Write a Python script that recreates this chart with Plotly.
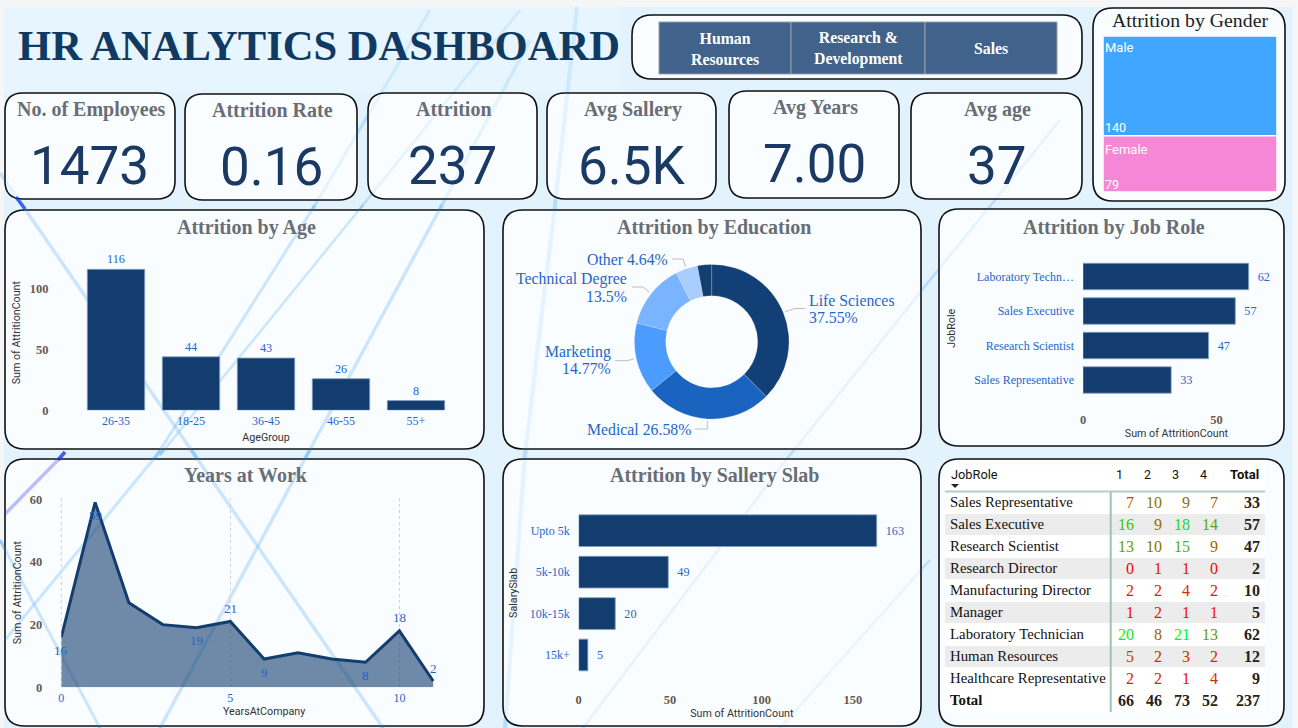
import plotly.graph_objects as go

W, H = 1298, 728

# ---------- data ----------
age_groups = ["26-35", "18-25", "36-45", "46-55", "55+"]
age_values = [116, 44, 43, 26, 8]
edu_labels = ["Life Sciences", "Medical", "Marketing", "Technical Degree", "Other", "Human Resources"]
edu_values = [89, 63, 35, 32, 11, 7]
job_labels = ["Laboratory Techn…", "Sales Executive", "Research Scientist", "Sales Representative"]
job_values = [62, 57, 47, 33]
years_x = [0, 1, 2, 3, 4, 5, 6, 7, 8, 9, 10, 11]
years_y = [16, 59, 27, 20, 19, 21, 9, 11, 9, 8, 18, 2]
years_labelled = {0: "below", 1: "below", 4: "below", 5: "above", 6: "below", 9: "below", 10: "above", 11: "above"}
slab_labels = ["Upto 5k", "5k-10k", "10k-15k", "15k+"]
slab_values = [163, 49, 20, 5]
gender_labels = ["Male", "Female"]
gender_values = [140, 79]
kpi_titles = ["No. of Employees", "Attrition Rate", "Attrition", "Avg Sallery", "Avg Years", "Avg age"]
kpi_values = ["1473", "0.16", "237", "6.5K", "7.00", "37"]
departments = ["Human<br>Resources", "Research &<br>Development", "Sales"]
table_roles = ["Sales Representative", "Sales Executive", "Research Scientist", "Research Director",
               "Manufacturing Director", "Manager", "Laboratory Technician", "Human Resources",
               "Healthcare Representative", "Total"]
table_levels = [1, 2, 3, 4]
table_sat1 = [7, 16, 13, 0, 2, 1, 20, 5, 2]
table_sat2 = [10, 9, 10, 1, 2, 2, 8, 2, 2]
table_sat3 = [9, 18, 15, 1, 4, 1, 21, 3, 1]
table_sat4 = [7, 14, 9, 0, 2, 1, 13, 2, 4]
table_total = [33, 57, 47, 2, 10, 5, 62, 12, 9]
table_col_totals = [66, 46, 73, 52]
table_grand_total = 237

# ---------- style ----------
SERIF = "Liberation Serif"
DIN = "Roboto"
NAVY = "#123d6e"
BLUE_TXT = "#1f66c9"
GREY_TITLE = "#6a6d75"
TICK_GREY = "#66594f"
BAR_EDGE = "rgba(130,160,195,0.8)"


def X(p):
    return p / W


def Y(p):
    return 1 - p / H


def rr(x0, y0, x1, y1, r):
    return (f"M{X(x0+r)},{Y(y0)} L{X(x1-r)},{Y(y0)} Q{X(x1)},{Y(y0)} {X(x1)},{Y(y0+r)} "
            f"L{X(x1)},{Y(y1-r)} Q{X(x1)},{Y(y1)} {X(x1-r)},{Y(y1)} L{X(x0+r)},{Y(y1)} "
            f"Q{X(x0)},{Y(y1)} {X(x0)},{Y(y1-r)} L{X(x0)},{Y(y0+r)} Q{X(x0)},{Y(y0)} {X(x0+r)},{Y(y0)} Z")


shapes = []
annotations = []


def rect(x0, y0, x1, y1, fill, line=None, lw=0, layer="below"):
    shapes.append(dict(type="rect", xref="paper", yref="paper", x0=X(x0), x1=X(x1), y0=Y(y0), y1=Y(y1),
                       fillcolor=fill, line=dict(color=line or fill, width=lw), layer=layer))


def seg(pts, color, width, layer="below", dash="solid"):
    p = "M" + " L".join(f"{X(a)},{Y(b)}" for a, b in pts)
    shapes.append(dict(type="path", xref="paper", yref="paper", path=p,
                       line=dict(color=color, width=width, dash=dash), layer=layer))


def panel(x0, y0, x1, y1, r=20):
    shapes.append(dict(type="path", xref="paper", yref="paper", path=rr(x0, y0, x1, y1, r),
                       fillcolor="rgba(255,255,255,0.80)", line=dict(color="#111111", width=1.6), layer="below"))


def text(t, x, y, size, color, family=SERIF, bold=False, xanchor="center", align="center"):
    dx = {"left": -1.5, "right": 1.5, "center": 0}[xanchor]
    font = dict(family=family, size=size, color=color)
    annotations.append(dict(text=f"<b>{t}</b>" if bold else t, x=X(x + dx), y=Y(y), xref="paper", yref="paper",
                            showarrow=False, xanchor=xanchor, yanchor="middle", align=align, font=font))


# ---------- background ----------
rect(4, 7, 1293, 728, "#e2f3fe")
rect(4, 7, 620, 92, "#e6f5ff")
LOWER_STREAKS = [
    ([(5, 640), (157, 455), (315, 205)], 3),
    ([(160, 728), (307, 455), (442, 205)], 3.5),
    ([(25, 209), (383, 728)], 3.5),
    ([(0, 540), (100, 728)], 3),
    ([(160, 455), (363, 205)], 2.5),
]
UPPER_STREAKS = [
    ([(315, 205), (430, 10)], 3),
    ([(442, 205), (530, 40)], 3.5),
    ([(363, 205), (520, 10)], 2.5),
    ([(0, 173), (25, 209)], 3.5),
]
RIGHT_STREAKS = [
    ([(505, 728), (525, 455), (555, 205), (577, 7)], 4),
    ([(583, 728), (790, 455), (930, 280), (1060, 120)], 2.5),
    ([(780, 728), (930, 560)], 2),
]
for pts, w in LOWER_STREAKS:
    seg(pts, "rgba(70,165,245,0.38)", w)
for pts, w in UPPER_STREAKS + RIGHT_STREAKS:
    seg(pts, "rgba(70,165,245,0.22)", w)
rect(4, 7, 625, 92, "rgba(230,245,255,0.6)")

# ---------- panels ----------
kpi_boxes = [(5, 93, 175, 199), (185, 94, 357, 200), (368, 93, 537, 199),
             (547, 93, 716, 199), (729, 91, 899, 198), (911, 93, 1082, 199)]
for b in kpi_boxes:
    panel(*b, r=18)
panel(632, 15, 1082, 79, r=20)
panel(1093, 8, 1285, 201, r=20)
panel(5, 210, 484, 449)
panel(503, 210, 921, 449)
panel(939, 209, 1284, 446)
panel(5, 459, 484, 726)
panel(503, 459, 921, 726)
panel(939, 459, 1284, 726)

# streaks that still show through the translucent panels
for pts, w in LOWER_STREAKS:
    seg(pts, "rgba(70,165,245,0.20)", w)
for pts, w in UPPER_STREAKS:
    seg(pts, "rgba(70,165,245,0.07)", w)
for pts, w in RIGHT_STREAKS:
    seg(pts, "rgba(70,165,245,0.07)", w)
seg([(16, 197), (25, 209)], "rgba(10,60,230,0.75)", 3.5)
seg([(65, 452), (58, 460)], "rgba(20,40,230,0.75)", 3.5)
seg([(58, 460), (5, 514)], "rgba(60,60,230,0.32)", 3.5)

# ---------- heading, KPI ----------
text("HR ANALYTICS DASHBOARD", 17, 45, 42.6, "#113a63", bold=True, xanchor="left")
for b, t, v in zip(kpi_boxes, kpi_titles, kpi_values):
    cx = (b[0] + b[2]) / 2
    text(t, cx + 1, b[1] + 16, 20, GREY_TITLE, bold=True)
    text(v, cx, b[1] + 73, 53, "#1b3a63", family=DIN)

# ---------- department slicer ----------
edges = [659, 791, 925, 1057]
for i, d in enumerate(departments):
    rect(edges[i], 22, edges[i + 1], 74, "#41628a", line="#9a9fa6", lw=1)
    text(d, (edges[i] + edges[i + 1]) / 2, 49, 15.8, "white", bold=True)

# ---------- panel titles ----------
text("Attrition by Gender", 1190, 20, 19.8, "#222222")
text("Attrition by Age", 246, 227, 20, GREY_TITLE, bold=True)
text("Attrition by Education", 714, 227, 20, GREY_TITLE, bold=True)
text("Attrition by Job Role", 1114, 227, 20, GREY_TITLE, bold=True)
text("Years at Work", 246, 475, 20, GREY_TITLE, bold=True)
text("Attrition by Sallery Slab", 714, 475, 20, GREY_TITLE, bold=True)

# ---------- figure ----------
fig = go.Figure()


def axis_font(blue=False):
    if blue:
        return dict(family=SERIF, size=12, color=BLUE_TXT)
    return dict(family=SERIF, size=12.5, color=TICK_GREY, weight=700)


def title_font():
    return dict(family=DIN, size=10.7, color="#333333")


LABEL_FONT = dict(family=SERIF, size=12.2, color=BLUE_TXT)

# Age
fig.add_trace(go.Bar(x=age_groups, y=age_values, xaxis="x", yaxis="y",
                     marker=dict(color=NAVY, line=dict(color=BAR_EDGE, width=1)),
                     text=age_values, textposition="outside", cliponaxis=False,
                     textfont=LABEL_FONT, showlegend=False))
# Job role
fig.add_trace(go.Bar(x=job_values, y=job_labels, orientation="h", xaxis="x2", yaxis="y2",
                     marker=dict(color=NAVY, line=dict(color=BAR_EDGE, width=1)),
                     text=job_values, texttemplate="\u2002%{x}", textposition="outside", cliponaxis=False,
                     textfont=LABEL_FONT, showlegend=False))
# Salary
fig.add_trace(go.Bar(x=slab_values, y=slab_labels, orientation="h", xaxis="x3", yaxis="y3",
                     marker=dict(color=NAVY, line=dict(color=BAR_EDGE, width=1)),
                     text=slab_values, texttemplate="\u2002%{x}", textposition="outside", cliponaxis=False,
                     textfont=LABEL_FONT, showlegend=False))
# Years
fig.add_trace(go.Scatter(x=years_x, y=years_y, xaxis="x4", yaxis="y4", mode="lines", fill="tozeroy",
                         fillcolor="rgba(18,61,110,0.60)", line=dict(color=NAVY, width=3), showlegend=False))
for i, where in years_labelled.items():
    annotations.append(dict(x=years_x[i], y=years_y[i], xref="x4", yref="y4", text=str(years_y[i]), showarrow=False,
                            yshift=13 if where == "above" else -13, yanchor="middle",
                            font=dict(family=SERIF, size=13, color=BLUE_TXT)))
seg([(61.3, 498), (61.3, 687.3)], "#d0d3d6", 1, dash="dot")

# Education donut
fig.add_trace(go.Pie(labels=edu_labels, values=edu_values, hole=0.595, sort=False, direction="clockwise", rotation=0,
                     textinfo="none", showlegend=False,
                     marker=dict(colors=["#123f75", "#1a63be", "#4c9cff", "#7ab3ff", "#a9cdff", "#123f6e"],
                                 line=dict(color="rgba(255,255,255,0.35)", width=0.5)),
                     domain=dict(x=[X(634.4), X(789)], y=[Y(419), Y(264.4)])))
# Gender treemap
fig.add_trace(go.Treemap(labels=gender_labels, parents=["", ""], values=gender_values, branchvalues="total",
                         textinfo="none", sort=False,
                         tiling=dict(packing="slice", pad=0), pathbar=dict(visible=False),
                         marker=dict(colors=["#3fa7ff", "#f587d6"], line=dict(color="white", width=1.5),
                                     pad=dict(t=0, l=0, r=0, b=0)),
                         domain=dict(x=[X(1103), X(1277)], y=[Y(192), Y(36)])))
text(gender_labels[0], 1104, 48, 13, "white", family=DIN, xanchor="left")
text(gender_labels[1], 1104, 150, 13, "white", family=DIN, xanchor="left")
text(str(gender_values[0]), 1104, 127, 12.5, "white", family=DIN, xanchor="left")
text(str(gender_values[1]), 1104, 184, 12.5, "white", family=DIN, xanchor="left")

# Donut labels and leader lines
LEAD = "#bdbdbd"
seg([(785, 311.7), (795, 308.5), (805, 308.5)], LEAD, 1)
seg([(707.3, 421), (707.3, 429), (695, 429)], LEAD, 1)
seg([(634, 359), (627, 360.7), (615, 360.7)], LEAD, 1)
seg([(649.3, 292.3), (643, 287), (632, 287)], LEAD, 1)
seg([(685.7, 266.7), (683, 259), (672, 259)], LEAD, 1)
pct = [f"{round(v / sum(edu_values) * 100, 2):g}%" for v in edu_values]
EDU = 15.8
text(edu_labels[0], 808, 300, EDU, BLUE_TXT, xanchor="left")
text(pct[0], 808, 317, EDU, BLUE_TXT, xanchor="left")
text(f"{edu_labels[1]} {pct[1]}", 691, 429, EDU, BLUE_TXT, xanchor="right")
text(edu_labels[2], 611, 352, EDU, BLUE_TXT, xanchor="right")
text(pct[2], 611, 368, EDU, BLUE_TXT, xanchor="right")
text(edu_labels[3], 627, 279, EDU, BLUE_TXT, xanchor="right")
text(pct[3], 627, 296, EDU, BLUE_TXT, xanchor="right")
text(f"{edu_labels[4]} {pct[4]}", 668, 259, EDU, BLUE_TXT, xanchor="right")


# Matrix table drawn as text marks on its own (hidden) axes
def heat(v):
    t = v / 21
    return f"rgb({round(255 * (1 - t))},{round(255 * t)},0)"


rect(945, 465, 1265, 712, "white")
for i in range(1, 9, 2):
    rect(945, 492 + 22 * i, 1265, 492 + 22 * (i + 1) - 1, "#ececec")
seg([(945, 491.5), (1265, 491.5)], "#b3d0bc", 2)
seg([(1110.7, 492), (1110.7, 712)], "#9cc4a8", 2)
shapes.append(dict(type="path", xref="paper", yref="paper", layer="below", fillcolor="#222222", line=dict(width=0),
                   path=f"M{X(951)},{Y(484)} L{X(959)},{Y(484)} L{X(955)},{Y(488)} Z"))
NUM = 16
ROLE_X = -5.57
TOTAL_X = 5.5


def tbl(xs, texts, colors, pos, size):
    fig.add_trace(go.Scatter(x=xs, y=table_roles, xaxis="x5", yaxis="y5", mode="text", text=texts, textposition=pos,
                             cliponaxis=False, showlegend=False,
                             textfont=dict(family=SERIF, size=size, color=colors)))


tbl([ROLE_X] * 10, table_roles[:-1] + ["<b>Total</b>"], "#111111", "middle right", 14.8)
for lvl, col, tot in zip(table_levels, [table_sat1, table_sat2, table_sat3, table_sat4], table_col_totals):
    tbl([lvl] * 10, [str(v) for v in col] + [f"<b>{tot}</b>"], [heat(v) for v in col] + ["#222222"], "middle left", NUM)
tbl([TOTAL_X] * 10, [f"<b>{v}</b>" for v in table_total + [table_grand_total]], "#222222", "middle left", NUM)

text("JobRole", 950, 474, 12.8, "#111111", family=DIN, xanchor="left")
for lvl in table_levels:
    text(str(lvl), 1119 + 28 * (lvl - 1), 474, 12.5, "#111111", family=DIN)
text("Total", 1259, 474, 13, "#111111", family=DIN, bold=True, xanchor="right")


def cat_axis(domain, title, standoff, tick_standoff, arr, rng, **kw):
    return dict(domain=domain, title=dict(text=title, font=title_font(), standoff=standoff),
                categoryorder="array", categoryarray=arr, range=rng, type="category", showgrid=False,
                zeroline=False, showline=False, ticks="", ticklabelstandoff=tick_standoff,
                tickfont=axis_font(True), fixedrange=True, automargin=False, **kw)


def val_axis(domain, title, standoff, tick_standoff, rng, vals, **kw):
    return dict(domain=domain, title=dict(text=title, font=title_font(), standoff=standoff),
                range=rng, tickvals=vals, showgrid=False, zeroline=False, showline=False, ticks="",
                ticklabelstandoff=tick_standoff, tickfont=axis_font(False), fixedrange=True, automargin=False, **kw)


fig.update_layout(
    width=W, height=H, margin=dict(l=0, r=0, t=0, b=0), paper_bgcolor="#f6f6f6", plot_bgcolor="rgba(0,0,0,0)",
    bargap=0.235, shapes=shapes, annotations=annotations, font=dict(family=SERIF), hovermode=False,
    xaxis=cat_axis([X(78.5), X(453.5)], "AgeGroup", 6, 2, age_groups, [-0.5, 4.5], anchor="y"),
    yaxis=val_axis([Y(410.3), Y(255)], "Sum of AttritionCount", 6, 29, [0, 127.8], [0, 50, 100], anchor="x"),
    xaxis2=val_axis([X(1083), X(1270)], "Sum of AttritionCount", 1, 13, [0, 70], [0, 50], anchor="y2"),
    yaxis2=cat_axis([Y(397.25), Y(259.25)], "JobRole", 16, 8, job_labels, [3.5, -0.5], anchor="x2"),
    xaxis3=val_axis([X(578.7), X(905)], "Sum of AttritionCount", 2, 15, [0, 178.5], [0, 50, 100, 150], anchor="y3"),
    yaxis3=cat_axis([Y(675.7), Y(510)], "SalarySlab", 9, 8, slab_labels, [3.5, -0.5], anchor="x3"),
    xaxis4=dict(domain=[X(61.3), X(467)], range=[0, 12], tickvals=[0, 5, 10], showgrid=True, griddash="dot",
                gridcolor="#d0d3d6", gridwidth=1, zeroline=False, showline=False, ticks="",
                tickfont=axis_font(True), ticklabelstandoff=2, fixedrange=True, anchor="y4", automargin=False,
                title=dict(text="YearsAtCompany", font=title_font(), standoff=3)),
    yaxis4=val_axis([Y(687.3), Y(498)], "Sum of AttritionCount", 6, 18, [0, 60.4], [0, 20, 40, 60], anchor="x4"),
    xaxis5=dict(domain=[X(938), X(1274)], range=[-6, 6], visible=False, fixedrange=True, anchor="y5"),
    yaxis5=dict(domain=[Y(712.5), Y(492.5)], type="category", categoryorder="array", categoryarray=table_roles,
                range=[9.5, -0.5], visible=False, fixedrange=True, anchor="x5"),
)

fig.write_html("out.html", config=dict(displayModeBar=False),
               post_script="document.body.style.margin='0';document.body.style.overflow='hidden';")
